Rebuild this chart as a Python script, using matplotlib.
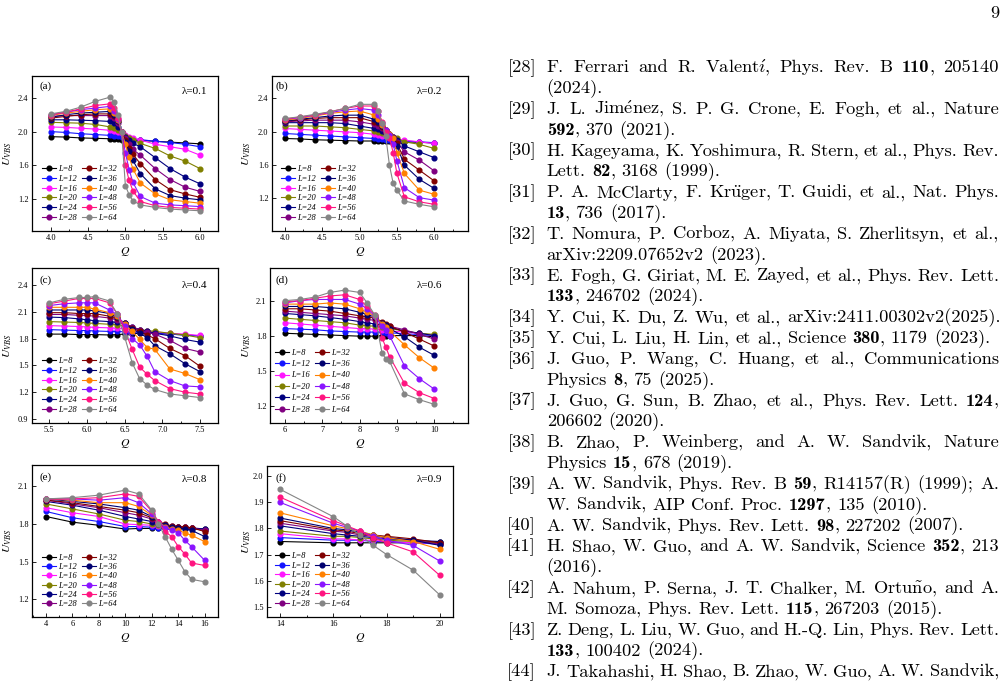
import matplotlib
matplotlib.use("Agg")
import matplotlib.pyplot as plt
from matplotlib.ticker import MultipleLocator, AutoMinorLocator, FormatStrFormatter
from matplotlib.font_manager import FontProperties

plt.rcParams['font.family'] = 'Liberation Serif'
plt.rcParams['mathtext.fontset'] = 'stix'

# ---------------- data ----------------
sizes = [8, 12, 16, 20, 24, 28, 32, 36, 40, 48, 56, 64]
colors = ['#000000', '#1414ff', '#ff14ff', '#808000', '#00007f', '#800080',
          '#800000', '#000070', '#ff8000', '#8a14ff', '#ff1480', '#858585']

q_a = [4.0, 4.2, 4.4, 4.6, 4.8, 4.85, 4.9, 4.95, 5.0, 5.05, 5.1, 5.2, 5.4, 5.6, 5.8, 6.0]
u_a = [
    [1.94, 1.935, 1.925, 1.92, 1.915, 1.912, 1.91, 1.905, 1.90, 1.90, 1.898, 1.895, 1.885, 1.875, 1.865, 1.855],
    [2.00, 1.99, 1.975, 1.965, 1.955, 1.95, 1.945, 1.94, 1.93, 1.92, 1.915, 1.905, 1.885, 1.87, 1.85, 1.82],
    [2.055, 2.05, 2.04, 2.03, 2.015, 2.01, 2.0, 1.985, 1.96, 1.94, 1.925, 1.90, 1.85, 1.82, 1.79, 1.72],
    [2.11, 2.105, 2.10, 2.085, 2.055, 2.04, 2.02, 1.99, 1.95, 1.92, 1.90, 1.86, 1.80, 1.71, 1.65, 1.56],
    [2.14, 2.14, 2.135, 2.13, 2.12, 2.10, 2.06, 2.0, 1.94, 1.90, 1.86, 1.82, 1.69, 1.56, 1.46, 1.38],
    [2.18, 2.19, 2.19, 2.19, 2.19, 2.16, 2.10, 2.0, 1.92, 1.85, 1.79, 1.72, 1.56, 1.43, 1.34, 1.29],
    [2.16, 2.18, 2.20, 2.21, 2.21, 2.18, 2.12, 2.0, 1.90, 1.81, 1.73, 1.62, 1.43, 1.31, 1.26, 1.22],
    [2.17, 2.20, 2.22, 2.23, 2.24, 2.20, 2.13, 2.0, 1.88, 1.77, 1.66, 1.50, 1.32, 1.24, 1.21, 1.19],
    [2.19, 2.22, 2.24, 2.26, 2.27, 2.22, 2.14, 2.0, 1.85, 1.70, 1.56, 1.39, 1.26, 1.19, 1.17, 1.15],
    [2.20, 2.23, 2.26, 2.28, 2.30, 2.25, 2.15, 2.0, 1.75, 1.55, 1.40, 1.23, 1.15, 1.13, 1.12, 1.11],
    [2.20, 2.23, 2.27, 2.31, 2.33, 2.28, 2.16, 2.0, 1.60, 1.42, 1.30, 1.17, 1.12, 1.10, 1.09, 1.08],
    [2.21, 2.24, 2.29, 2.36, 2.41, 2.35, 2.20, 1.99, 1.36, 1.25, 1.18, 1.13, 1.10, 1.08, 1.07, 1.06],
]

q_b = [4.0, 4.2, 4.4, 4.6, 4.8, 5.0, 5.2, 5.25, 5.3, 5.35, 5.4, 5.45, 5.5, 5.6, 5.8, 6.0]
u_b = [
    [1.92, 1.915, 1.905, 1.90, 1.895, 1.89, 1.89, 1.888, 1.887, 1.886, 1.885, 1.885, 1.884, 1.88, 1.875, 1.865],
    [1.98, 1.97, 1.96, 1.95, 1.94, 1.93, 1.92, 1.915, 1.91, 1.905, 1.90, 1.90, 1.895, 1.89, 1.88, 1.87],
    [2.04, 2.03, 2.02, 2.01, 2.0, 1.99, 1.97, 1.96, 1.955, 1.945, 1.935, 1.925, 1.915, 1.90, 1.88, 1.86],
    [2.07, 2.07, 2.07, 2.06, 2.05, 2.03, 2.01, 2.0, 1.99, 1.97, 1.955, 1.935, 1.92, 1.88, 1.85, 1.80],
    [2.11, 2.11, 2.11, 2.11, 2.10, 2.07, 2.04, 2.03, 2.01, 1.99, 1.965, 1.935, 1.90, 1.83, 1.76, 1.69],
    [2.12, 2.13, 2.14, 2.14, 2.14, 2.12, 2.09, 2.07, 2.04, 2.01, 1.97, 1.935, 1.88, 1.76, 1.66, 1.53],
    [2.13, 2.14, 2.16, 2.17, 2.17, 2.17, 2.12, 2.10, 2.06, 2.02, 1.97, 1.93, 1.86, 1.67, 1.54, 1.41],
    [2.13, 2.15, 2.17, 2.19, 2.20, 2.20, 2.15, 2.12, 2.07, 2.02, 1.97, 1.93, 1.83, 1.60, 1.43, 1.32],
    [2.14, 2.16, 2.19, 2.22, 2.24, 2.25, 2.20, 2.15, 2.08, 2.02, 1.97, 1.92, 1.75, 1.50, 1.30, 1.25],
    [2.15, 2.17, 2.20, 2.23, 2.26, 2.28, 2.26, 2.20, 2.10, 2.02, 1.96, 1.85, 1.65, 1.33, 1.21, 1.18],
    [2.15, 2.18, 2.20, 2.24, 2.28, 2.31, 2.31, 2.25, 2.12, 2.00, 1.93, 1.75, 1.50, 1.22, 1.16, 1.13],
    [2.16, 2.18, 2.21, 2.24, 2.28, 2.33, 2.33, 2.25, 2.10, 1.95, 1.60, 1.38, 1.30, 1.17, 1.13, 1.10],
]

q_c = [5.5, 5.7, 5.9, 6.0, 6.1, 6.3, 6.4, 6.5, 6.6, 6.7, 6.8, 6.9, 7.1, 7.3, 7.5]
u_c = [
    [1.85, 1.85, 1.845, 1.845, 1.845, 1.84, 1.845, 1.85, 1.855, 1.86, 1.86, 1.86, 1.85, 1.84, 1.83],
    [1.90, 1.895, 1.89, 1.89, 1.885, 1.88, 1.88, 1.875, 1.87, 1.87, 1.865, 1.86, 1.85, 1.84, 1.83],
    [1.945, 1.94, 1.935, 1.93, 1.925, 1.92, 1.915, 1.91, 1.90, 1.89, 1.88, 1.875, 1.86, 1.85, 1.835],
    [1.99, 1.985, 1.98, 1.975, 1.97, 1.96, 1.955, 1.94, 1.92, 1.90, 1.89, 1.88, 1.86, 1.84, 1.81],
    [2.04, 2.035, 2.02, 2.01, 2.0, 1.99, 1.98, 1.96, 1.93, 1.90, 1.88, 1.86, 1.83, 1.79, 1.76],
    [2.07, 2.07, 2.06, 2.06, 2.05, 2.03, 2.01, 1.97, 1.93, 1.90, 1.87, 1.85, 1.78, 1.69, 1.65],
    [2.09, 2.09, 2.08, 2.08, 2.08, 2.05, 2.03, 1.97, 1.92, 1.88, 1.84, 1.80, 1.69, 1.61, 1.49],
    [2.12, 2.12, 2.12, 2.12, 2.11, 2.08, 2.04, 1.97, 1.91, 1.86, 1.81, 1.72, 1.63, 1.52, 1.43],
    [2.15, 2.15, 2.15, 2.15, 2.13, 2.09, 2.05, 1.96, 1.88, 1.79, 1.70, 1.68, 1.46, 1.41, 1.34],
    [2.17, 2.19, 2.20, 2.20, 2.20, 2.12, 2.07, 1.94, 1.80, 1.73, 1.60, 1.43, 1.33, 1.27, 1.26],
    [2.19, 2.22, 2.25, 2.25, 2.25, 2.20, 2.08, 1.90, 1.68, 1.48, 1.40, 1.33, 1.24, 1.20, 1.18],
    [2.20, 2.24, 2.26, 2.26, 2.27, 2.22, 2.08, 1.82, 1.53, 1.35, 1.28, 1.23, 1.18, 1.16, 1.14],
]

q_d = [6.0, 6.4, 6.8, 7.2, 7.6, 8.0, 8.2, 8.4, 8.6, 8.7, 8.8, 9.2, 9.6, 10.0]
u_d = [
    [1.82, 1.815, 1.81, 1.805, 1.80, 1.795, 1.795, 1.795, 1.80, 1.80, 1.80, 1.80, 1.80, 1.79],
    [1.86, 1.855, 1.85, 1.84, 1.835, 1.83, 1.83, 1.83, 1.83, 1.825, 1.825, 1.815, 1.81, 1.80],
    [1.91, 1.90, 1.89, 1.88, 1.87, 1.86, 1.86, 1.855, 1.85, 1.85, 1.84, 1.83, 1.82, 1.80],
    [1.95, 1.94, 1.93, 1.92, 1.91, 1.89, 1.885, 1.88, 1.87, 1.865, 1.86, 1.84, 1.82, 1.81],
    [1.99, 1.98, 1.97, 1.955, 1.94, 1.92, 1.91, 1.90, 1.89, 1.88, 1.87, 1.84, 1.82, 1.80],
    [2.01, 2.00, 1.99, 1.98, 1.97, 1.95, 1.94, 1.93, 1.91, 1.89, 1.88, 1.85, 1.81, 1.77],
    [2.03, 2.03, 2.02, 2.01, 1.99, 1.97, 1.96, 1.95, 1.92, 1.90, 1.88, 1.83, 1.77, 1.71],
    [2.05, 2.05, 2.05, 2.04, 2.03, 2.00, 1.98, 1.96, 1.91, 1.89, 1.86, 1.79, 1.70, 1.63],
    [2.07, 2.07, 2.07, 2.08, 2.07, 2.03, 2.00, 1.97, 1.90, 1.87, 1.84, 1.72, 1.61, 1.52],
    [2.08, 2.10, 2.11, 2.11, 2.11, 2.07, 2.03, 1.97, 1.88, 1.85, 1.80, 1.54, 1.43, 1.34],
    [2.09, 2.10, 2.12, 2.14, 2.15, 2.11, 2.05, 1.98, 1.78, 1.70, 1.62, 1.39, 1.31, 1.26],
    [2.10, 2.11, 2.13, 2.17, 2.19, 2.17, 2.08, 1.98, 1.65, 1.60, 1.58, 1.30, 1.25, 1.21],
]

q_e = [4, 6, 8, 10, 11, 12, 12.5, 13, 13.5, 14, 14.5, 15, 16]
u_e = [
    [1.86, 1.815, 1.79, 1.76, 1.765, 1.765, 1.765, 1.765, 1.765, 1.765, 1.765, 1.765, 1.76],
    [1.90, 1.85, 1.82, 1.78, 1.78, 1.775, 1.77, 1.77, 1.77, 1.77, 1.765, 1.765, 1.755],
    [1.93, 1.89, 1.86, 1.80, 1.795, 1.79, 1.785, 1.78, 1.775, 1.775, 1.77, 1.765, 1.75],
    [1.96, 1.92, 1.88, 1.83, 1.82, 1.80, 1.79, 1.78, 1.775, 1.775, 1.77, 1.765, 1.75],
    [1.98, 1.95, 1.91, 1.86, 1.84, 1.82, 1.80, 1.785, 1.78, 1.78, 1.775, 1.77, 1.76],
    [1.99, 1.96, 1.93, 1.89, 1.87, 1.84, 1.81, 1.79, 1.785, 1.78, 1.775, 1.77, 1.75],
    [1.99, 1.97, 1.94, 1.91, 1.89, 1.85, 1.82, 1.80, 1.785, 1.78, 1.775, 1.77, 1.74],
    [2.00, 1.98, 1.96, 1.93, 1.91, 1.86, 1.82, 1.79, 1.775, 1.77, 1.76, 1.75, 1.70],
    [2.00, 1.99, 1.97, 1.97, 1.94, 1.87, 1.82, 1.78, 1.76, 1.75, 1.73, 1.71, 1.66],
    [2.00, 2.00, 1.99, 2.01, 1.97, 1.88, 1.82, 1.77, 1.75, 1.73, 1.67, 1.62, 1.51],
    [2.00, 2.00, 2.01, 2.04, 2.02, 1.90, 1.82, 1.74, 1.70, 1.62, 1.56, 1.49, 1.47],
    [2.00, 2.01, 2.03, 2.07, 2.04, 1.91, 1.80, 1.70, 1.60, 1.51, 1.42, 1.36, 1.34],
]

q_f = [14, 16, 16.5, 17, 17.5, 18, 19, 20]
u_f = [
    [1.75, 1.745, 1.745, 1.745, 1.745, 1.745, 1.745, 1.75],
    [1.765, 1.755, 1.755, 1.755, 1.75, 1.75, 1.745, 1.74],
    [1.78, 1.76, 1.76, 1.755, 1.755, 1.75, 1.745, 1.745],
    [1.79, 1.77, 1.77, 1.765, 1.76, 1.755, 1.75, 1.745],
    [1.81, 1.78, 1.775, 1.77, 1.765, 1.76, 1.755, 1.75],
    [1.82, 1.79, 1.785, 1.775, 1.77, 1.765, 1.755, 1.74],
    [1.83, 1.795, 1.79, 1.78, 1.775, 1.77, 1.76, 1.745],
    [1.84, 1.80, 1.795, 1.785, 1.775, 1.765, 1.755, 1.735],
    [1.86, 1.81, 1.80, 1.79, 1.775, 1.765, 1.75, 1.72],
    [1.90, 1.82, 1.805, 1.79, 1.77, 1.755, 1.735, 1.675],
    [1.92, 1.83, 1.81, 1.79, 1.765, 1.745, 1.71, 1.62],
    [1.95, 1.845, 1.81, 1.775, 1.735, 1.70, 1.64, 1.545],
]

tags = ['(a)', '(b)', '(c)', '(d)', '(e)', '(f)']
lambdas = ['λ=0.1', 'λ=0.2', 'λ=0.4', 'λ=0.6', 'λ=0.8', 'λ=0.9']

refs = [
    ("[28]", ["F. Ferrari and R. Valentí, Phys. Rev. B *110*, 205140", "(2024)."]),
    ("[29]", ["J. L. Jiménez, S. P. G. Crone, E. Fogh, et al., Nature", "*592*, 370 (2021)."]),
    ("[30]", ["H. Kageyama, K. Yoshimura, R. Stern, et al., Phys. Rev.", "Lett. *82*, 3168 (1999)."]),
    ("[31]", ["P. A. McClarty, F. Krüger, T. Guidi, et al., Nat. Phys.", "*13*, 736 (2017)."]),
    ("[32]", ["T. Nomura, P. Corboz, A. Miyata, S. Zherlitsyn, et al.,", "arXiv:2209.07652v2 (2023)."]),
    ("[33]", ["E. Fogh, G. Giriat, M. E. Zayed, et al., Phys. Rev. Lett.", "*133*, 246702 (2024)."]),
    ("[34]", ["Y. Cui, K. Du, Z. Wu, et al., arXiv:2411.00302v2(2025)."]),
    ("[35]", ["Y. Cui, L. Liu, H. Lin, et al., Science *380*, 1179 (2023)."]),
    ("[36]", ["J. Guo, P. Wang, C. Huang, et al., Communications", "Physics *8*, 75 (2025)."]),
    ("[37]", ["J. Guo, G. Sun, B. Zhao, et al., Phys. Rev. Lett. *124*,", "206602 (2020)."]),
    ("[38]", ["B. Zhao, P. Weinberg, and A. W. Sandvik, Nature", "Physics *15*, 678 (2019)."]),
    ("[39]", ["A. W. Sandvik, Phys. Rev. B *59*, R14157(R) (1999); A.", "W. Sandvik, AIP Conf. Proc. *1297*, 135 (2010)."]),
    ("[40]", ["A. W. Sandvik, Phys. Rev. Lett. *98*, 227202 (2007)."]),
    ("[41]", ["H. Shao, W. Guo, and A. W. Sandvik, Science *352*, 213", "(2016)."]),
    ("[42]", ["A. Nahum, P. Serna, J. T. Chalker, M. Ortuño, and A.", "M. Somoza, Phys. Rev. Lett. *115*, 267203 (2015)."]),
    ("[43]", ["Z. Deng, L. Liu, W. Guo, and H.-Q. Lin, Phys. Rev. Lett.", "*133*, 100402 (2024)."]),
    ("[44]", ["J. Takahashi, H. Shao, B. Zhao, W. Guo, A. W. Sandvik,", ""]),
]

# ---------------- layout (pixels) ----------------
W, H = 1006, 682
fig = plt.figure(figsize=(W / 100, H / 100), dpi=100)

def fx(x):
    return x / W

def fy(y):
    return 1 - y / H

boxes = [(32, 76, 218, 231), (272, 76, 468, 231),
         (32, 268, 218, 423), (270, 268, 468, 423),
         (32, 465, 218, 617), (267, 466, 453, 617)]
xlims = [(3.75, 6.24), (3.83, 6.45), (5.27, 7.74), (5.6, 10.9), (2.94, 17.0), (13.5, 20.5)]
ylims = [(0.82, 2.66), (0.81, 2.67), (0.855, 2.59), (1.05, 2.38), (1.06, 2.27), (1.46, 2.04)]
xsteps = [0.5, 0.5, 0.5, 1, 2, 2]
ysteps = [0.4, 0.4, 0.3, 0.3, 0.3, 0.1]
xfmts = ['%.1f', '%.1f', '%.1f', '%d', '%d', '%d']
qs = [q_a, q_b, q_c, q_d, q_e, q_f]
us = [u_a, u_b, u_c, u_d, u_e, u_f]
leg_x = [0.052, 0.045, 0.052, 0.025, 0.052, 0.043]
leg_sp = [0.2, 0.2, 0.2, 0.41, 0.14, 0.19]

for i in range(6):
    x0, y0, x1, y1 = boxes[i]
    ax = fig.add_axes([fx(x0), fy(y1), (x1 - x0) / W, (y1 - y0) / H])
    for L, c, row in zip(sizes, colors, us[i]):
        ax.plot(qs[i], row, '-o', color=c, lw=0.8, ms=3.4, mec=c, label='L=%d' % L)
    ax.set_xlim(*xlims[i])
    ax.set_ylim(*ylims[i])
    ax.xaxis.set_major_locator(MultipleLocator(xsteps[i]))
    ax.xaxis.set_minor_locator(AutoMinorLocator(2))
    ax.yaxis.set_major_locator(MultipleLocator(ysteps[i]))
    ax.xaxis.set_major_formatter(FormatStrFormatter(xfmts[i]))
    ax.yaxis.set_major_formatter(FormatStrFormatter('%.1f'))
    ax.tick_params(which='both', direction='in', labelsize=6, pad=2.5, width=0.6)
    ax.tick_params(which='major', length=3)
    ax.tick_params(which='minor', length=1.5)
    for s in ax.spines.values():
        s.set_linewidth(0.9)
    ax.legend(ncol=2, loc='lower left', bbox_to_anchor=(leg_x[i], 0.06), frameon=False,
              prop=dict(family='Liberation Serif', style='italic', size=6),
              handlelength=1.7, handletextpad=0.25, columnspacing=0.6,
              labelspacing=leg_sp[i], borderpad=0, borderaxespad=0, markerscale=1.0)

    left_col = i % 2 == 0
    # panel tag and lambda
    fig.text(fx(39 if left_col else 275), fy(boxes[i][1] + (10 if i < 2 else 12)), tags[i],
             fontsize=8, ha='left', va='center')
    fig.text(fx(207 if left_col else 442), fy(boxes[i][1] + (16 if i < 2 else 17 if i < 4 else 14)),
             lambdas[i], fontsize=8, ha='right', va='center')
    # axis labels
    fig.text(fx(8 if left_col else 247), fy((y0 + y1) / 2), r'$U_{VBS}$',
             rotation=90, ha='center', va='center', fontsize=8.5)
    fig.text(fx(125 if left_col else 360), fy(y1 + 21), r'$Q$',
             ha='center', va='center', fontsize=8.5)

# ---------------- reference list ----------------
fig.canvas.draw()
rend = fig.canvas.get_renderer()

accents = {'í': r'\acute{\imath}', 'é': r'\acute{e}', 'ü': r'\ddot{u}', 'ñ': r'\tilde{n}'}

def props(fs):
    return (FontProperties(family=['cmr10', 'DejaVu Serif'], size=fs, math_fontfamily='cm'),
            FontProperties(family=['cmb10', 'DejaVu Serif'], size=fs, math_fontfamily='cm'))

def prep(s):
    # words with accented letters go through mathtext in Computer Modern
    if any(ch in accents for ch in s):
        body = ''.join(accents.get(ch, ch) for ch in s)
        return r'$\mathrm{' + body + '}$', True
    return s, False

def parse(line):
    words = []
    bold = False
    for w in line.split(' '):
        runs = []
        for k, p in enumerate(w.split('*')):
            if k > 0:
                bold = not bold
            if p:
                runs.append((p, bold))
        words.append(runs)
    return words

def tw(s, fp):
    s2, m = prep(s)
    return rend.get_text_width_height_descent(s2, fp, ismath=m)[0]

def word_widths(words, fr, fb):
    return [sum(tw(t, fb if b else fr) for t, b in wd) for wd in words]

# scale font so that a plain line matches its width on the page
fs = 12.0
fr, fb = props(fs)
probe = parse("A. W. Sandvik, Phys. Rev. Lett. *98*, 227202 (2007).")
w0 = sum(word_widths(probe, fr, fb)) + (len(probe) - 1) * 0.333 * fs * 100 / 72
fs = fs * 417.6 / w0
fr, fb = props(fs)
space = 0.333 * fs * 100 / 72

x_text, x_right, x_lab = 546.7, 999.0, 536.0
base0, dy = 72.3, 20.83
row = 0
for label, lines in refs:
    fig.text(fx(x_lab), fy(base0 + row * dy), label, fontproperties=fr, ha='right', va='baseline')
    for k, line in enumerate(lines):
        if line:
            words = parse(line)
            ws = word_widths(words, fr, fb)
            last = k == len(lines) - 1
            gap = space if last else (x_right - x_text - sum(ws)) / (len(words) - 1)
            x = x_text
            yb = fy(base0 + row * dy)
            for wd, w in zip(words, ws):
                xx = x
                for t, b in wd:
                    fp = fb if b else fr
                    fig.text(fx(xx), yb, prep(t)[0], fontproperties=fp, ha='left', va='baseline')
                    xx += tw(t, fp)
                x += w + gap
        row += 1

fig.text(fx(999), fy(18), '9', fontproperties=fr, ha='right', va='baseline')

fig.savefig('out.png', dpi=100)
